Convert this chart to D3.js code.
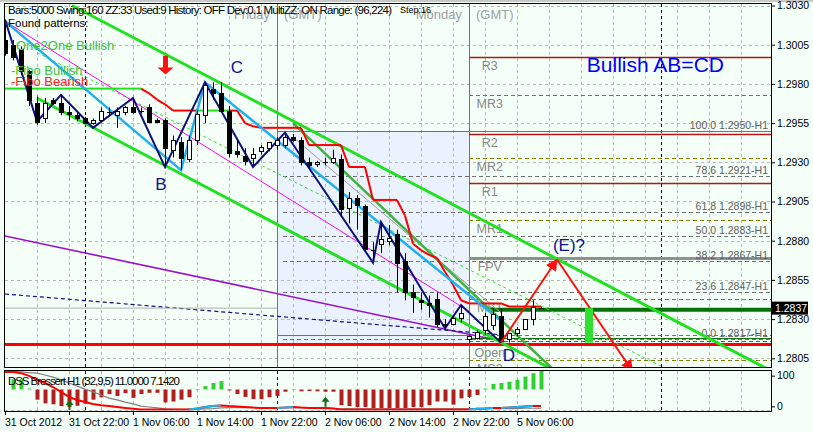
<!DOCTYPE html>
<html><head><meta charset="utf-8">
<script src="https://cdn.jsdelivr.net/npm/d3@7"></script>
<style>body{margin:0;background:#f4fff8;}svg{display:block;font-family:"DejaVu Sans",sans-serif;}</style>
</head><body><svg id="c" width="813" height="432"></svg>
<script>
// ---------------- DATA ----------------
const timeLabels=["31 Oct 2012","31 Oct 22:00","1 Nov 06:00","1 Nov 14:00","1 Nov 22:00","2 Nov 06:00","2 Nov 14:00","2 Nov 22:00","5 Nov 06:00"];
const timeLabelIdx=[0,8,16,24,32,40,48,56,64];
const priceTicks=[1.3030,1.3005,1.2980,1.2955,1.2930,1.2905,1.2880,1.2855,1.2830,1.2805];
const opens=[1.3008,1.3005,1.3002,1.2988,1.2968,1.2958,1.2970,1.2968,1.2962,1.2960,
 1.2958,1.2955,1.2957,1.2962,1.2960,1.2962,1.2965,1.2963,1.2965,1.2957,
 1.2957,1.2938,1.2943,1.2932,1.2944,1.2960,1.2977,1.2974,1.2963,1.2937,
 1.2934,1.2933,1.2937,1.2939,1.2941,1.2941,1.2946,1.2944,1.2930,1.2929,
 1.2930,1.2930,1.2932,1.2901,1.2907,1.2902,1.2874,1.2878,1.2880,1.2884,
 1.2867,1.2847,1.2842,1.2840,1.2843,1.2827,1.2827,1.2831,1.2817,1.2818,
 1.2823,1.2826,1.2832,1.2817,1.2821,1.2824,1.2830,1.2837];
const highs=[1.3018,1.3008,1.3004,1.2989,1.2972,1.2971,1.2971,1.2973,1.2966,1.2962,
 1.2959,1.2958,1.2965,1.2965,1.2965,1.2966,1.2971,1.2965,1.2967,1.2958,
 1.2958,1.2947,1.2946,1.2947,1.2963,1.2981,1.2981,1.2981,1.2966,1.2944,
 1.2939,1.2939,1.2941,1.2943,1.2946,1.2949,1.2948,1.2946,1.2933,1.2931,
 1.2933,1.2938,1.2935,1.2911,1.2909,1.2903,1.2879,1.2892,1.2890,1.2887,
 1.2872,1.2852,1.2847,1.2845,1.2847,1.2830,1.2832,1.2839,1.2820,1.2823,
 1.2834,1.2837,1.2837,1.2821,1.2825,1.2830,1.2842,1.2838];
const lows=[1.2998,1.2995,1.2986,1.2966,1.2954,1.2955,1.2967,1.2960,1.2957,1.2956,
 1.2955,1.2954,1.2956,1.2960,1.2952,1.2960,1.2961,1.2961,1.2955,1.2955,
 1.2927,1.2933,1.2925,1.2930,1.2941,1.2955,1.2970,1.2962,1.2933,1.2933,
 1.2928,1.2928,1.2935,1.2937,1.2938,1.2939,1.2943,1.2928,1.2926,1.2927,
 1.2928,1.2929,1.2895,1.2891,1.2887,1.2874,1.2866,1.2872,1.2877,1.2847,
 1.2842,1.2834,1.2836,1.2831,1.2825,1.2824,1.2826,1.2828,1.2815,1.2817,
 1.2820,1.2823,1.2815,1.2815,1.2819,1.2823,1.2826,1.2837];
const closes=[1.3000,1.2997,1.2988,1.2970,1.2956,1.2968,1.2968,1.2962,1.2961,1.2958,
 1.2955,1.2957,1.2963,1.2962,1.2963,1.2965,1.2962,1.2963,1.2956,1.2956,
 1.2939,1.2944,1.2933,1.2944,1.2961,1.2979,1.2974,1.2963,1.2936,1.2935,
 1.2931,1.2935,1.2940,1.2943,1.2944,1.2946,1.2944,1.2930,1.2928,1.2930,
 1.2930,1.2933,1.2900,1.2907,1.2903,1.2875,1.2874,1.2881,1.2882,1.2866,
 1.2847,1.2844,1.2841,1.2839,1.2827,1.2826,1.2831,1.2834,1.2819,1.2822,
 1.2832,1.2833,1.2816,1.2821,1.2824,1.2830,1.2838,1.2837];
const currentPrice=1.2837;
// step trailing line (per bar) and its colour state (1 = green, 0 = red)
const stepLine=[1.2977,1.2977,1.2977,1.2977,1.2977,1.2977,1.2977,1.2977,1.2977,1.2977,
 1.2977,1.2977,1.2977,1.2977,1.2977,1.2977,1.2977,1.2977,1.2974,1.2970,
 1.2967,1.2963,1.2963,1.2963,1.2963,1.2963,1.2963,1.2963,1.2963,1.2963,
 1.2955,1.2953,1.2952,1.2952,1.2952,1.2952,1.2952,1.2952,1.2941,1.2941,
 1.2941,1.2941,1.2941,1.2927,1.2927,1.2927,1.2906,1.2906,1.2906,1.2906,
 1.2896,1.2878,1.2874,1.2871,1.2869,1.2860,1.2852,1.2842,1.2840,1.2840,
 1.2840,1.2840,1.2840,1.2838,1.2838,1.2838,1.2838,1.2838];
const stepGreen=[1,1,1,1,1,1,1,1,1,1,1,1,1,1,1,1,1,1,0,0,0,0,0,0,1,1,1,1,1,0,
 0,0,0,0,0,0,0,0,0,0,0,0,0,0,0,0,0,0,0,0,0,0,0,0,0,0,0,0,0,0,0,0,0,0,0,0,0,0];
// zigzag
const zzIdx=[0,4,7,11,16,20,25,31,35,46,47,55,57,62];
const zzPrice=[1.3021,1.2956,1.2973,1.2952,1.2971,1.2927,1.2981,1.2927,1.2949,1.2866,1.2892,1.2824,1.2839,1.2815];
// cyan pattern legs
const cyanIdx=[0,22,25,62];
const cyanPrice=[1.3020,1.2925,1.2981,1.2829];
// channel and trend lines [idx0,price0,idx1,price1]
const limeUpper=[8.375,1.3030,95.75,1.2797];
const limeLower=[4,1.2971,68.75,1.2797];
const midGreen=[36,1.2955,68.5,1.2798];
const magentaLine=[0,1.3020,58,1.2835];
const purpleLine=[0,1.2883,62,1.2816];
const navyDash=[0,1.2846,62,1.2820];
const greenDash1=[4,1.3000,82,1.2800];
const grayThin=[36,1.2946,62,1.2834];
// pivots
const pivotNames=["R3","MR3","R2","MR2","R1","MR1","FPV","MS1","Open","MS2"];
const pivotPrices=[1.2997,1.2973,1.2948,1.2933,1.2917,1.2893,1.2869,1.2843,1.2814,1.2804];
// fibonacci
const fibLevels=["100.0","78.6","61.8","50.0","38.2","23.6","0.0"];
const fibPrices=[1.2950,1.2921,1.2898,1.2883,1.2867,1.2847,1.2817];
// projection (D -> E -> ...)
const projIdx=[62,69,78.4];
const projPrice=[1.2815,1.2868,1.2797];
// DSS indicator
const dssHist=[0,55,55,5,-55,-75,-80,-90,-95,-88,
 -77,-55,-42,-25,-35,-20,-45,-25,-18,-18,
 -70,-65,-55,-42,3,18,35,45,-5,-25,
 -40,-52,-52,-42,-35,-12,3,-10,-8,-10,
 -12,-12,-85,-90,-95,-95,-100,-100,-100,-100,
 -100,-95,-95,-85,-65,-65,-82,-48,-40,-30,
 5,30,35,42,52,70,88,100];
const dssMain=[112,112,108,99,86,76,63,47,31,21,14,8,4,1,-2,-5,-8,-10,-10,-10,
 -10,-10,-10,-10,-7,-2,1,3,1,0,-2,-4,-5,-5,-5,-4,-2,-4,-5,-5,
 -5,-7,-10,-10,-10,-10,-10,-10,-10,-10,-10,-10,-10,-10,-10,-10,-10,-10,-10,-8,
 -7,-5,-5,-4,-2,0,1,1];
const dssSignal=[114,114,112,110,108,102,95,86,76,66,56,47,37,27,21,14,8,1,-2,-5,
 -8,-10,-10,-10,-10,-8,-7,-5,-4,-4,-4,-4,-4,-4,-4,-4,-4,-4,-4,-4,
 -4,-6,-8,-8,-8,-8,-8,-8,-8,-8,-8,-8,-8,-8,-8,-8,-8,-8,-8,-8,
 -7,-7,-7,-7,-7,-6,-6,-6];
const indTicks=[100,0];

// ---------------- SCALES ----------------
const svg=d3.select("#c");
const L=5,R=771,T=4,B=367,IT=371,IB=411;
const FONT="Liberation Sans, Arial, sans-serif";
const x=d3.scaleLinear().domain([0,95.75]).range([L,R]);
const y=d3.scaleLinear().domain([1.3030,1.2805]).range([5.5,358.3]);
const yi=d3.scaleLinear().domain([-15,115]).range([IB,IT]);
const yh=d3.scaleLinear().domain([-100,100]).range([408,371]);

svg.append("rect").attr("width",813).attr("height",432).attr("fill","#f4fff8");
svg.append("rect").attr("width",813).attr("height",2).attr("fill","#c8c8c8");
const defs=svg.append("defs");
defs.append("clipPath").attr("id","cm").append("rect").attr("x",L).attr("y",T).attr("width",R-L).attr("height",B-T);
defs.append("clipPath").attr("id","ci").append("rect").attr("x",L).attr("y",IT).attr("width",R-L).attr("height",IB-IT);
const arrowDef=(id,col)=>defs.append("marker").attr("id",id).attr("viewBox","0 0 10 10").attr("refX",9).attr("refY",5)
 .attr("markerWidth",6).attr("markerHeight",6).attr("orient","auto-start-reverse").append("path").attr("d","M0,0L10,5L0,10z").attr("fill",col);
arrowDef("ar","#ff1010");

const g=svg.append("g").attr("clip-path","url(#cm)");
const gi=svg.append("g").attr("clip-path","url(#ci)");

// background rectangle (light blue)
g.append("rect").attr("x",x(34)).attr("y",y(1.2950)).attr("width",x(58)-x(34)).attr("height",y(1.2814)-y(1.2950)).attr("fill","#eaf3fd");

// grid
const gridIdx=d3.range(4,96,4);
[g,gi].forEach((gg,k)=>{
  const y0=k?IT:T,y1=k?IB:B;
  gg.selectAll(null).data(gridIdx).join("line").attr("x1",d=>x(d)+.5).attr("x2",d=>x(d)+.5).attr("y1",y0).attr("y2",y1)
   .attr("stroke","#b8b8b8").attr("stroke-dasharray","3,3");
});
g.selectAll(null).data(priceTicks).join("line").attr("x1",L).attr("x2",R).attr("y1",d=>Math.round(y(d))+.5).attr("y2",d=>Math.round(y(d))+.5)
 .attr("stroke","#b8b8b8").attr("stroke-dasharray","3,3");
// period separators
const sepIdx=[10,34,58,82];
[g,gi].forEach((gg,k)=>{
  gg.selectAll(null).data(sepIdx).join("line").attr("x1",d=>x(d)+.5).attr("x2",d=>x(d)+.5).attr("y1",k?IT:T).attr("y2",k?IB:B)
   .attr("stroke","#000").attr("stroke-dasharray","3,3");
});
g.selectAll(null).data([34,58]).join("line").attr("x1",d=>x(d)+.5).attr("x2",d=>x(d)+.5).attr("y1",T).attr("y2",B).attr("stroke","#808020");

// day labels
const dayText=[["Friday",34],["Monday",58]];
dayText.forEach(([t,i])=>{
  g.append("text").attr("x",x(i)-7).attr("y",19).attr("text-anchor","end").attr("fill","#a0a0a0").attr("font-size",13).attr("font-family",FONT).text(t);
  g.append("text").attr("x",x(i)+7).attr("y",19).attr("fill","#a0a0a0").attr("font-size",13).attr("font-family",FONT).text("(GMT)");
});

const seg=(a,col,w,dash)=>g.append("line").attr("x1",x(a[0])).attr("y1",y(a[1])).attr("x2",x(a[2])).attr("y2",y(a[3]))
  .attr("stroke",col).attr("stroke-width",w).attr("stroke-dasharray",dash||null);

// long left lines
seg(purpleLine,"#9a10d0",1.6);
seg(navyDash,"#101080",1.2,"4,3");
g.append("line").attr("x1",L).attr("x2",x(34)).attr("y1",y(1.2837)).attr("y2",y(1.2837)).attr("stroke","#b0b0b0");

// pivot lines
const pivStyle={R3:["#b01818",0,1.3],R2:["#b01818",0,1.3],R1:["#b01818",0,1.3],MR3:["#808000","4,3",1],MR2:["#808000","4,3",1],
 MR1:["#808000","4,3",1],MS1:["#808000","4,3",1],MS2:["#808000","4,3",1],FPV:["#909090",0,3],Open:["#ff0000",0,3]};
pivotNames.forEach((n,k)=>{
  const s=pivStyle[n];
  g.append("line").attr("x1",n==="Open"?L:x(58)).attr("x2",R).attr("y1",Math.round(y(pivotPrices[k]))+.5).attr("y2",Math.round(y(pivotPrices[k]))+.5)
   .attr("stroke",s[0]).attr("stroke-width",s[2]).attr("stroke-dasharray",s[1]||null);
  g.append("text").attr("x",x(60.6)).attr("y",y(pivotPrices[k])+13).attr("text-anchor","middle").attr("fill","#888").attr("font-size",12.5).attr("font-family",FONT).text(n);
});
// teal lines
[[1.2950],[1.2820]].forEach(([p])=>{
  g.append("line").attr("x1",x(34)).attr("x2",x(58)).attr("y1",Math.round(y(p))+.5).attr("y2",Math.round(y(p))+.5).attr("stroke","#2090b0");
  g.append("line").attr("x1",x(58)).attr("x2",R).attr("y1",Math.round(y(p))+.5).attr("y2",Math.round(y(p))+.5).attr("stroke","#2090b0").attr("stroke-dasharray","4,3");
});
g.append("line").attr("x1",x(58)).attr("x2",R).attr("y1",Math.round(y(1.2818))+.5).attr("y2",Math.round(y(1.2818))+.5).attr("stroke","#107010");
g.append("line").attr("x1",x(58)).attr("x2",R).attr("y1",Math.round(y(1.2816))+.5).attr("y2",Math.round(y(1.2816))+.5).attr("stroke","#a03090").attr("stroke-dasharray","4,3");
// fib lines
fibPrices.forEach((p,k)=>{
  const yy=Math.round(y(p))+.5;
  g.append("line").attr("x1",x(34.75)).attr("x2",R).attr("y1",yy).attr("y2",yy).attr("stroke","#707070").attr("stroke-dasharray","4,3");
  g.append("text").attr("x",R-3).attr("y",yy-3).attr("text-anchor","end").attr("fill","#606060").attr("font-size",10.5).attr("font-family",FONT).text(fibLevels[k]+" "+p.toFixed(4)+"-H1");
});
// current price thick green line
g.append("line").attr("x1",x(60.5)).attr("x2",R).attr("y1",y(1.2836)).attr("y2",y(1.2836)).attr("stroke","#087008").attr("stroke-width",4);

// diagonal lines
seg(greenDash1,"#30e030",1,"3,3");
seg(magentaLine,"#ff00ff",1);
seg(grayThin,"#a0a0a0",1);
seg(limeLower,"#20e020",3);
seg(limeUpper,"#20e020",3);
seg(midGreen,"#40b040",2.5);

// step line
for(let i=1;i<stepLine.length;i++){
  g.append("line").attr("x1",x(i-1)).attr("y1",y(stepLine[i-1])).attr("x2",x(i)).attr("y2",y(stepLine[i]))
   .attr("stroke",stepGreen[i]&&stepGreen[i-1]?"#20e020":"#ff0000").attr("stroke-width",2);
}
// cyan & zigzag
const ln=d3.line().x(d=>x(d[0])).y(d=>y(d[1]));
g.append("path").attr("d",ln(cyanIdx.map((d,k)=>[d,cyanPrice[k]]))).attr("fill","none").attr("stroke","#20b0f0").attr("stroke-width",2.5);
g.append("path").attr("d",ln(zzIdx.map((d,k)=>[d,zzPrice[k]]))).attr("fill","none").attr("stroke","#101078").attr("stroke-width",2);

// candles
const idx=d3.range(opens.length);
g.selectAll(null).data(idx).join("line").attr("x1",i=>x(i)+.5).attr("x2",i=>x(i)+.5)
 .attr("y1",i=>y(highs[i])).attr("y2",i=>y(lows[i])).attr("stroke","#000");
g.selectAll(null).data(idx).join("rect")
 .attr("x",i=>x(i)-1.5).attr("width",4)
 .attr("y",i=>Math.round(y(Math.max(opens[i],closes[i])))+.5)
 .attr("height",i=>Math.max(0.01,Math.round(y(Math.min(opens[i],closes[i])))-Math.round(y(Math.max(opens[i],closes[i])))))
 .attr("fill",i=>closes[i]<opens[i]?"#000":"#fff").attr("stroke","#000");

// projection arrows
g.append("line").attr("x1",x(projIdx[0])).attr("y1",y(projPrice[0])).attr("x2",x(projIdx[1])).attr("y2",y(projPrice[1]))
 .attr("stroke","#ff1010").attr("stroke-width",2).attr("marker-end","url(#ar)");
g.append("line").attr("x1",x(projIdx[1])).attr("y1",y(projPrice[1])).attr("x2",x(projIdx[2])).attr("y2",y(projPrice[2]))
 .attr("stroke","#ff1010").attr("stroke-width",2).attr("marker-end","url(#ar)");
// green bar marker
g.append("rect").attr("x",x(73)-4).attr("width",8).attr("y",y(1.2837)).attr("height",y(1.2815)-y(1.2837)).attr("fill","#30e030");
// red down arrow
{const cx=x(20)+.5,t=y(1.2998),b=y(1.2986);
 g.append("path").attr("d",`M${cx-2.5},${t}H${cx+2.5}V${b-7}H${cx+8}L${cx},${b}L${cx-8},${b-7}H${cx-2.5}Z`).attr("fill","#ff1010");}

// pattern point labels
const ptLbl=[["B",19.5,1.2915],["C",29,1.2990],["D",63,1.2806],["(E)?",70.5,1.2876]];
ptLbl.forEach(([t,i,p])=>g.append("text").attr("x",x(i)).attr("y",y(p)).attr("text-anchor","middle").attr("dominant-baseline","middle")
 .attr("fill","#101090").attr("font-size",17).attr("font-family",FONT).text(t));
g.append("text").attr("x",x(81.3)).attr("y",y(1.2992)+1).attr("text-anchor","middle").attr("dominant-baseline","middle")
 .attr("fill","#0000ff").attr("font-size",21).attr("font-family",FONT).text("Bullish AB=CD");

// header texts
const hdr=svg.append("g").attr("font-family",FONT);
hdr.append("text").attr("x",8).attr("y",14).attr("font-size",11.5).attr("textLength",384).attr("lengthAdjust","spacing")
 .text("Bars:5000  Swing:160  ZZ:33  Used:9  History: OFF  Dev:0.1  MultiZZ: ON  Range: (96,224)");
hdr.append("text").attr("x",400).attr("y",13).attr("font-size",9).text("Step:16");
hdr.append("text").attr("x",8).attr("y",27).attr("font-size",11.5).text("Found patterns:");
hdr.append("text").attr("x",16).attr("y",50).attr("font-size",13).attr("fill","#40c040").text("One2One Bullish");
hdr.append("text").attr("x",11).attr("y",75).attr("font-size",13).attr("fill","#40c040").text("-Fibo Bullish");
hdr.append("text").attr("x",11).attr("y",86).attr("font-size",13).attr("fill","#ff2020").text("-Fibo Bearish");

// ---------------- INDICATOR ----------------
gi.selectAll(null).data(idx).join("rect").attr("x",i=>x(i)-1.5).attr("width",4)
 .attr("y",i=>Math.min(yh(0),yh(dssHist[i]))).attr("height",i=>Math.abs(yh(dssHist[i])-yh(0)))
 .attr("fill",i=>dssHist[i]>=0?"#30d030":"#b02020");
const li=d3.line().x((d,i)=>x(i)).y(d=>yi(d));
gi.append("path").attr("d",li(dssSignal)).attr("fill","none").attr("stroke","#808080").attr("stroke-width",1.2);
gi.append("path").attr("d",li(dssMain)).attr("fill","none").attr("stroke","#ff0000").attr("stroke-width",2);
for(let i=1;i<dssMain.length;i++){ if(dssMain[i]>dssMain[i-1])
  gi.append("line").attr("x1",x(i-1)).attr("x2",x(i)).attr("y1",yi(dssMain[i-1])).attr("y2",yi(dssMain[i])).attr("stroke","#20b0f0").attr("stroke-width",2);}
gi.append("line").attr("x1",L).attr("x2",R).attr("y1",IB-0.5).attr("y2",IB-0.5).attr("stroke","#b8b8b8").attr("stroke-dasharray","3,3");
// small green arrows
[[8,-5],[40,5]].forEach(([i,v])=>{const cx=x(i)+.5,t=yi(v)-8;
 gi.append("path").attr("d",`M${cx},${t}L${cx+4},${t+5}H${cx+1}V${t+10}H${cx-1}V${t+5}H${cx-4}Z`).attr("fill","#107010");});
svg.append("text").attr("x",8).attr("y",385).attr("font-size",11.5).attr("font-family",FONT)
 .attr("textLength",172).text("DSS Bressert H1 (32,9,5) 11.0000 7.1420");

// frames
svg.append("rect").attr("x",L-.5).attr("y",T-.5).attr("width",R-L+1).attr("height",B-T+1).attr("fill","none").attr("stroke","#000");
svg.append("rect").attr("x",L-.5).attr("y",IT-.5).attr("width",R-L+1).attr("height",IB-IT+1).attr("fill","none").attr("stroke","#000");

// axes
const ax=svg.append("g").attr("transform",`translate(${R},0)`).call(d3.axisRight(y).tickValues(priceTicks).tickFormat(d3.format(".4f")).tickSize(4).tickPadding(2));
ax.select(".domain").remove();
ax.selectAll("text").attr("font-size",10.5).attr("font-family",FONT).attr("fill","#000");
const axi=svg.append("g").attr("transform",`translate(${R},0)`).call(d3.axisRight(yi).tickValues(indTicks).tickSize(4).tickPadding(2));
axi.select(".domain").remove();
axi.selectAll("text").attr("font-size",10.5).attr("font-family",FONT).attr("fill","#000");
// current price box
svg.append("rect").attr("x",R+1).attr("y",y(currentPrice)-6.5).attr("width",36).attr("height",13).attr("fill","#000");
svg.append("text").attr("x",R+4).attr("y",y(currentPrice)+4).attr("fill","#fff").attr("font-size",10.5).attr("font-family",FONT).text(currentPrice.toFixed(4));
// time axis
svg.selectAll(null).data(timeLabelIdx).join("line").attr("x1",i=>x(i)+.5).attr("x2",i=>x(i)+.5).attr("y1",IB).attr("y2",IB+4).attr("stroke","#000");
svg.selectAll(null).data(timeLabelIdx).join("text").attr("x",i=>x(i)).attr("y",426).attr("font-size",10.5).attr("font-family",FONT)
 .text((d,k)=>timeLabels[k]);
</script></body></html>
